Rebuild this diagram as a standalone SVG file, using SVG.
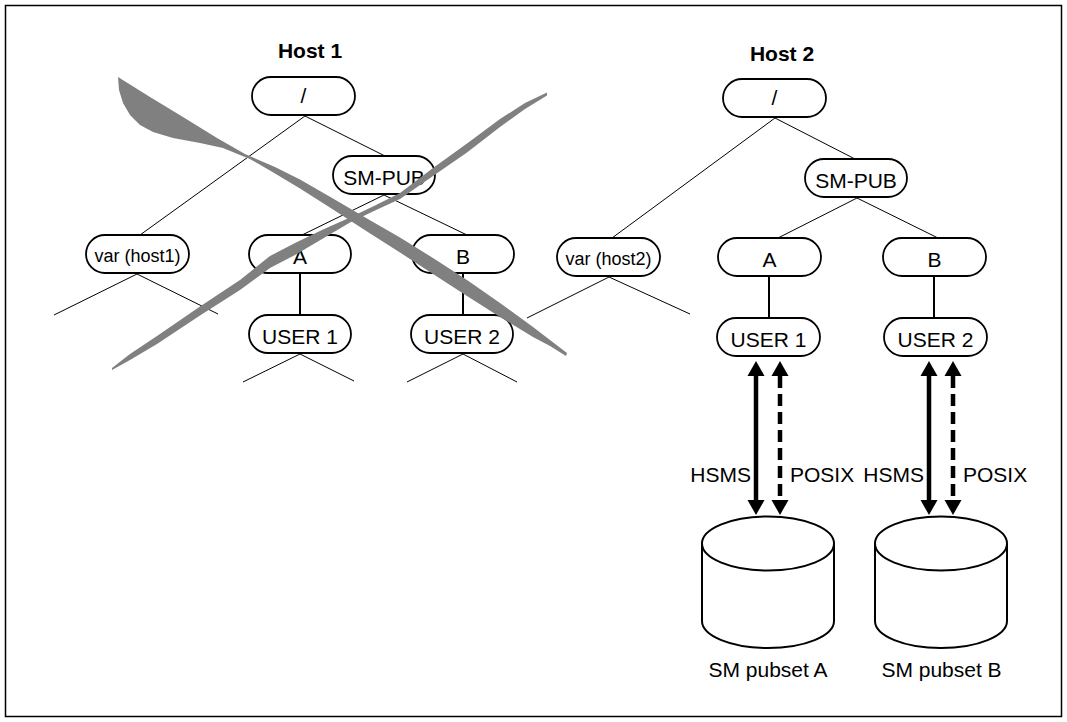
<svg xmlns="http://www.w3.org/2000/svg" width="1067" height="722" viewBox="0 0 1067 722">
<defs>
<style>
.node rect{fill:#fff;stroke:#000;stroke-width:1.8}
.t{font-family:"Liberation Sans",Arial,sans-serif;font-size:21px;fill:#000;text-anchor:middle}
.tv{font-family:"Liberation Sans",Arial,sans-serif;font-size:18px;fill:#000;text-anchor:middle}
.title{font-family:"Liberation Sans",Arial,sans-serif;font-size:21px;font-weight:bold;fill:#000;text-anchor:middle}
.lbl{font-family:"Liberation Sans",Arial,sans-serif;font-size:21px;fill:#000}
.thin{stroke:#000;stroke-width:1;fill:none}
.vert{stroke:#000;stroke-width:2;fill:none}
.arr{stroke:#000;stroke-width:4.5;fill:none;marker-start:url(#ah);marker-end:url(#ah)}
.dash{stroke-dasharray:12 6}
.cyl path,.cyl ellipse{fill:#fff;stroke:#000;stroke-width:2}
.cross{fill:#808080;stroke:none}
</style>
<marker id="ah" viewBox="0 -9 15 18" markerWidth="15" markerHeight="18" refX="0" refY="0" orient="auto-start-reverse" markerUnits="userSpaceOnUse">
<path d="M0,-8.5 L15,0 L0,8.5 Z" fill="#000"/>
</marker>
</defs>
<rect x="5.5" y="5.5" width="1056" height="711" fill="#fff" stroke="#000" stroke-width="1.5"/>

<g id="connectors">
<!-- Host 1 -->
<line class="thin" x1="305" y1="116" x2="140" y2="235"/>
<line class="thin" x1="305" y1="116" x2="385" y2="156"/>
<line class="thin" x1="384" y1="195" x2="302" y2="235"/>
<line class="thin" x1="384" y1="195" x2="467" y2="235"/>
<line class="vert" x1="300" y1="273" x2="300" y2="315"/>
<line class="vert" x1="463" y1="273" x2="463" y2="315"/>
<line class="thin" x1="137" y1="274" x2="54" y2="315"/>
<line class="thin" x1="137" y1="274" x2="218" y2="314"/>
<line class="thin" x1="300" y1="354" x2="243" y2="382"/>
<line class="thin" x1="300" y1="354" x2="354" y2="381"/>
<line class="thin" x1="463" y1="354" x2="407" y2="382"/>
<line class="thin" x1="463" y1="354" x2="517" y2="382"/>
<!-- Host 2 -->
<line class="thin" x1="775" y1="118" x2="612" y2="238"/>
<line class="thin" x1="775" y1="118" x2="855" y2="159"/>
<line class="thin" x1="857" y1="198" x2="778" y2="238"/>
<line class="thin" x1="857" y1="198" x2="938" y2="238"/>
<line class="vert" x1="769" y1="276" x2="769" y2="318"/>
<line class="vert" x1="934" y1="276" x2="934" y2="318"/>
<line class="thin" x1="609" y1="277" x2="527" y2="318"/>
<line class="thin" x1="609" y1="277" x2="690" y2="314"/>
<line class="arr" x1="756" y1="376" x2="756" y2="500"/>
<line class="arr dash" x1="780" y1="376" x2="780" y2="500"/>
<line class="arr" x1="929" y1="376" x2="929" y2="500"/>
<line class="arr dash" x1="953" y1="376" x2="953" y2="500"/>
</g>

<text class="title" x="310" y="58">Host 1</text>
<text class="title" x="782" y="61">Host 2</text>

<g id="h1-root" class="node"><rect x="252" y="77" width="103" height="38" rx="19"/><text class="t" x="303.5" y="103">/</text></g>
<g id="h1-smpub" class="node"><rect x="333" y="156" width="102" height="38" rx="19"/><text class="t" x="384" y="185">SM-PUB</text></g>
<g id="h1-var" class="node"><rect x="86" y="235" width="103" height="38" rx="19"/><text class="tv" x="137.5" y="262">var (host1)</text></g>
<g id="h1-a" class="node"><rect x="249" y="235" width="102" height="38" rx="19"/><text class="t" x="300" y="264">A</text></g>
<g id="h1-b" class="node"><rect x="412" y="235" width="102" height="38" rx="19"/><text class="t" x="463" y="264">B</text></g>
<g id="h1-user1" class="node"><rect x="249" y="315" width="102" height="38" rx="19"/><text class="t" x="300" y="344">USER 1</text></g>
<g id="h1-user2" class="node"><rect x="411" y="315" width="102" height="38" rx="19"/><text class="t" x="462" y="344">USER 2</text></g>

<g id="h2-root" class="node"><rect x="723" y="79" width="103" height="38" rx="19"/><text class="t" x="774.5" y="105">/</text></g>
<g id="h2-smpub" class="node"><rect x="805" y="159" width="102" height="38" rx="19"/><text class="t" x="856" y="188">SM-PUB</text></g>
<g id="h2-var" class="node"><rect x="557" y="238" width="103" height="38" rx="19"/><text class="tv" x="608.5" y="265">var (host2)</text></g>
<g id="h2-a" class="node"><rect x="718" y="238" width="103" height="38" rx="19"/><text class="t" x="769.5" y="267">A</text></g>
<g id="h2-b" class="node"><rect x="883" y="238" width="103" height="38" rx="19"/><text class="t" x="934.5" y="267">B</text></g>
<g id="h2-user1" class="node"><rect x="717" y="318" width="103" height="38" rx="19"/><text class="t" x="768.5" y="347">USER 1</text></g>
<g id="h2-user2" class="node"><rect x="884" y="318" width="103" height="38" rx="19"/><text class="t" x="935.5" y="347">USER 2</text></g>

<g id="labels">
<text class="lbl" x="751" y="482" text-anchor="end">HSMS</text>
<text class="lbl" x="790" y="482">POSIX</text>
<text class="lbl" x="924" y="482" text-anchor="end">HSMS</text>
<text class="lbl" x="963" y="482">POSIX</text>
</g>

<g id="pubset-a" class="cyl">
<path d="M702,543.5 L702,621 A66,27 0 0 0 834,621 L834,543.5"/>
<ellipse cx="768" cy="543.5" rx="66" ry="27"/>
<text class="t" x="768" y="677">SM pubset A</text>
</g>
<g id="pubset-b" class="cyl">
<path d="M875,543.5 L875,621 A66,27 0 0 0 1007,621 L1007,543.5"/>
<ellipse cx="941" cy="543.5" rx="66" ry="27"/>
<text class="t" x="941.5" y="677">SM pubset B</text>
</g>

<g id="cross">
<path class="cross" d="M118,77 L150,97 L183,117 L217,138 L245,154 L275,167 L300,179.5 L333,198.5 L367,218.5 L400,237.5 L433,258 L467,280 L500,303 L533,327 L550,340 L567,353 L566,356 L550,346 L533,337 L500,317 L467,296 L433,274 L400,252.5 L367,231.5 L333,209.5 L300,188.5 L275,173.5 L250,159 L240,155 L223,148 L200,143 L173,138 L153,132 L140,125 L130,115 L123,103 L119,90 Z"/>
<path class="cross" d="M112,368 L130,354 L157,336 L200,306.5 L240,280 L270,256 L295,243 L323,229.5 L350,217.5 L375,205.5 L400,193 L433,168 L467,143.5 L500,119 L525,103 L547,92.5 L547,95.5 L525,109 L500,127 L467,152.5 L433,176 L400,199 L375,210.5 L350,222.5 L323,238.5 L295,255 L270,268 L240,290 L200,315.5 L157,344 L130,360 L112,370 Z"/>
</g>
</svg>
